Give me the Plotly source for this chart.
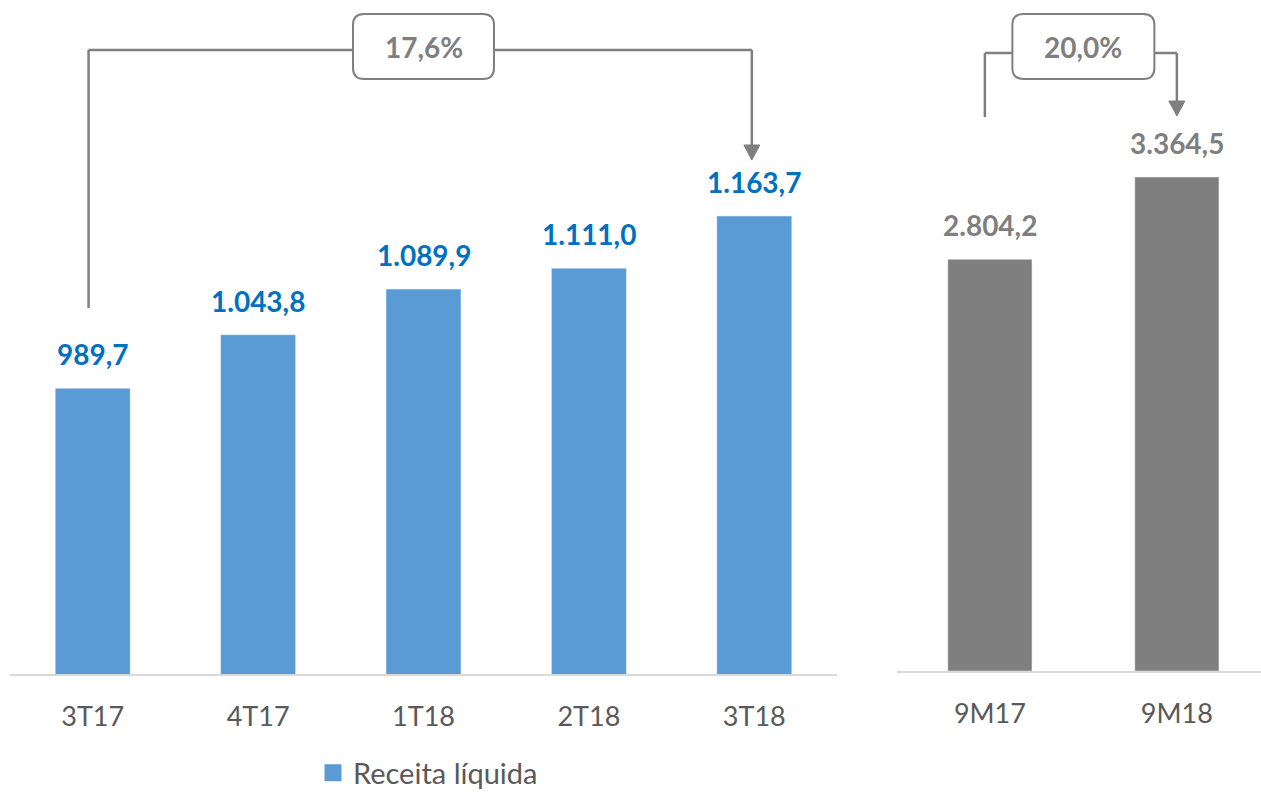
import plotly.graph_objects as go

# ---------------- data ----------------
quarters = ["3T17", "4T17", "1T18", "2T18", "3T18"]
quarter_revenue = [989.7, 1043.8, 1089.9, 1111.0, 1163.7]
periods = ["9M17", "9M18"]
period_revenue = [2804.2, 3364.5]
series_name = "Receita líquida"
growth_quarter = "17,6%"
growth_period = "20,0%"

# ---------------- style ----------------
W, H = 1261, 792
BLUE = "#5B9BD5"
LABEL_BLUE = "#0070C0"
GRAY = "#7F7F7F"
AXIS = "#D9D9D9"
TEXT = "#595959"
FONT = "Lato"


def py(y):
    return 1 - y / H


def px(x):
    return x / W


def br(v):
    s = f"{v:,.1f}"
    return s.replace(",", "X").replace(".", ",").replace("X", ".")


fig = go.Figure()
fig.add_trace(go.Bar(x=quarters, y=quarter_revenue, marker_color=BLUE, width=0.453,
                     xaxis="x", yaxis="y", showlegend=False, hoverinfo="skip"))
fig.add_trace(go.Bar(x=periods, y=period_revenue, marker_color=GRAY, width=0.45,
                     xaxis="x2", yaxis="y2", showlegend=False, hoverinfo="skip"))
fig.add_trace(go.Scatter(x=[None], y=[None], mode="markers", name=series_name,
                         marker=dict(symbol="square", size=12, color=BLUE,
                                     line=dict(color=BLUE, width=5)),
                         xaxis="x", yaxis="y", showlegend=True))

annotations = []
for c, v in zip(quarters, quarter_revenue):
    annotations.append(dict(x=c, y=v, xref="x", yref="y", text=f"<b>{br(v)}</b>",
                            showarrow=False, yanchor="bottom", yshift=15,
                            font=dict(family=FONT, size=28, color=LABEL_BLUE)))
for c, v in zip(periods, period_revenue):
    annotations.append(dict(x=c, y=v, xref="x2", yref="y2", text=f"<b>{br(v)}</b>",
                            showarrow=False, yanchor="bottom", yshift=15,
                            font=dict(family=FONT, size=28, color=GRAY)))

# growth boxes text
annotations.append(dict(x=2, y=py(47), xref="x", yref="paper", text=f"<b>{growth_quarter}</b>",
                        showarrow=False, yanchor="middle",
                        font=dict(family=FONT, size=28, color=GRAY)))
annotations.append(dict(x=0.5, y=py(47), xref="x2", yref="paper", text=f"<b>{growth_period}</b>",
                        showarrow=False, yanchor="middle",
                        font=dict(family=FONT, size=28, color=GRAY)))


def rrect(hw, hh, r):
    return (f"M {-hw + r},{-hh} L {hw - r},{-hh} Q {hw},{-hh} {hw},{-hh + r} "
            f"L {hw},{hh - r} Q {hw},{hh} {hw - r},{hh} L {-hw + r},{hh} "
            f"Q {-hw},{hh} {-hw},{hh - r} L {-hw},{-hh + r} Q {-hw},{-hh} {-hw + r},{-hh} Z")


LINE = dict(color=GRAY, width=2.5)
L0, L1 = -0.025, 3.985   # bracket ends (left chart, category units)
R0, R1 = -0.027, 1.0     # bracket ends (right chart, category units)
shapes = []
# left bracket
shapes.append(dict(type="line", xref="x", yref="paper", x0=L0, x1=L0, y0=py(308), y1=py(50), line=LINE))
shapes.append(dict(type="line", xref="x", yref="paper", x0=L0, x1=L1, y0=py(50), y1=py(50), line=LINE))
shapes.append(dict(type="line", xref="x", yref="paper", x0=L1, x1=L1, y0=py(50), y1=py(147), line=LINE))
shapes.append(dict(type="path", xref="x", yref="paper", xsizemode="pixel", ysizemode="pixel",
                   xanchor=L1, yanchor=py(160), path="M -8,15 L 8,15 L 0,0 Z",
                   fillcolor=GRAY, line=dict(color=GRAY, width=1)))
shapes.append(dict(type="path", xref="x", yref="paper", xsizemode="pixel", ysizemode="pixel",
                   xanchor=2, yanchor=py(46.5), path=rrect(70.5, 32.5, 11),
                   fillcolor="white", line=dict(color=GRAY, width=2)))
# right bracket
shapes.append(dict(type="line", xref="x2", yref="paper", x0=R0, x1=R0, y0=py(117), y1=py(53), line=LINE))
shapes.append(dict(type="line", xref="x2", yref="paper", x0=R0, x1=R1, y0=py(53), y1=py(53), line=LINE))
shapes.append(dict(type="line", xref="x2", yref="paper", x0=R1, x1=R1, y0=py(53), y1=py(103), line=LINE))
shapes.append(dict(type="path", xref="x2", yref="paper", xsizemode="pixel", ysizemode="pixel",
                   xanchor=R1, yanchor=py(116), path="M -8,15 L 8,15 L 0,0 Z",
                   fillcolor=GRAY, line=dict(color=GRAY, width=1)))
shapes.append(dict(type="path", xref="x2", yref="paper", xsizemode="pixel", ysizemode="pixel",
                   xanchor=0.5, yanchor=py(46.5), path=rrect(71, 32.5, 11),
                   fillcolor="white", line=dict(color=GRAY, width=2)))

xaxis_common = dict(showline=True, linecolor=AXIS, linewidth=2, showgrid=False, zeroline=False,
                    ticks="outside", ticklen=18, tickcolor="rgba(0,0,0,0)",
                    tickfont=dict(family=FONT, size=27, color=TEXT), fixedrange=True)

fig.update_layout(
    width=W, height=H, autosize=False,
    margin=dict(l=0, r=0, t=0, b=0, pad=0, autoexpand=False),
    paper_bgcolor="white", plot_bgcolor="white",
    font=dict(family=FONT, color=TEXT),
    separators=",.",
    xaxis=dict(domain=[px(10), px(837)], anchor="y", **xaxis_common),
    yaxis=dict(domain=[py(674), 1], range=[701, 1382], visible=False, fixedrange=True),
    xaxis2=dict(domain=[px(897), 1], anchor="y2", range=[-0.497, 1.45], **xaxis_common),
    yaxis2=dict(domain=[py(671), 1], range=[0, 4571], visible=False, fixedrange=True),
    legend=dict(orientation="h", x=px(313), xanchor="left", y=py(773), yanchor="middle",
                bgcolor="rgba(0,0,0,0)", font=dict(family=FONT, size=29, color=TEXT)),
    annotations=annotations,
    shapes=shapes,
    bargap=0.5,
)

fig.write_html("out.html", config={"displayModeBar": False},
               post_script="document.body.style.margin='0';document.body.style.overflow='hidden';")
